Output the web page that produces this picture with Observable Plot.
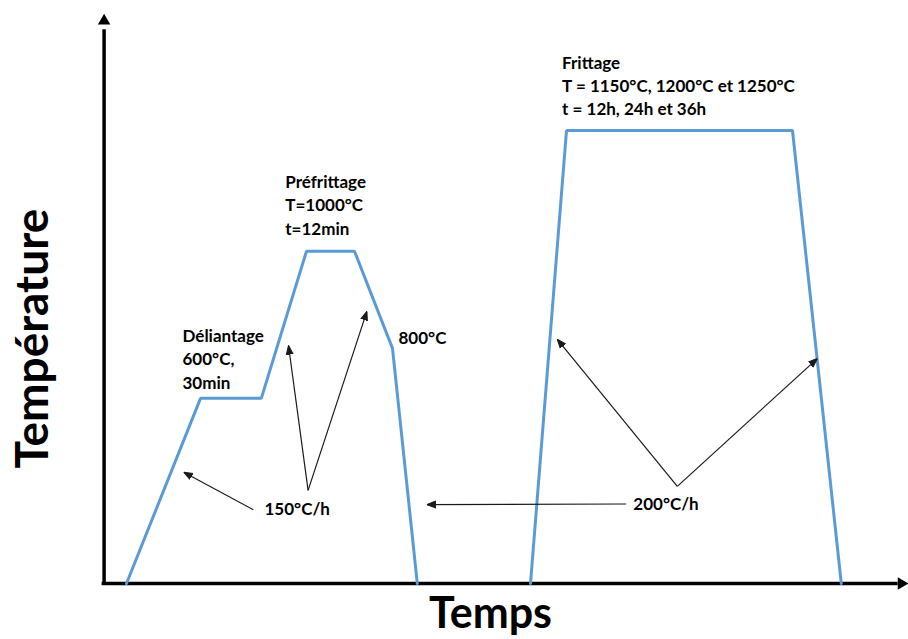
<!DOCTYPE html>
<html>
<head>
<meta charset="utf-8">
<script src="https://cdn.jsdelivr.net/npm/d3@7"></script>
<script src="https://cdn.jsdelivr.net/npm/@observablehq/plot@0.6"></script>
<style>
  html, body { margin: 0; padding: 0; background: #fff; }
  #chart svg { display: block; font-family: Lato, "Open Sans", sans-serif; }
</style>
</head>
<body>
<div id="chart"></div>
<script>
// Schematic thermal cycle: time (arbitrary units 0–100) vs temperature level (arbitrary units 0–100)
const cycle1Time = [2.75, 12, 19.6, 25.25, 31.25, 36, 39.1];
const cycle1Temp = [0, 32.6, 32.6, 58.5, 58.5, 41.4, 0];
const cycle2Time = [53.25, 57.75, 86, 92.1];
const cycle2Temp = [0, 79.75, 79.75, 0];

// Annotation labels
const labelTexts = [
  "Déliantage\n600°C,\n30min",
  "Préfrittage\nT=1000°C\nt=12min",
  "800°C",
  "Frittage\nT = 1150°C, 1200°C et 1250°C\nt = 12h, 24h et 36h",
  "150°C/h",
  "200°C/h"
];
const labelTime = [9.75, 22.6, 36.75, 57.2, 20.0, 66.1];
const labelTemp = [34.3, 61.4, 42.25, 82.4, 12.0, 13.0];

// Annotation arrows (from -> to)
const arrowFromTime = [18.6, 25.45, 25.45, 65.2, 71.6, 71.6];
const arrowFromTemp = [13.0, 16.4, 16.4, 14.0, 17.1, 17.1];
const arrowToTime   = [9.9, 23.0, 32.8, 40.3, 56.6, 89.1];
const arrowToTemp   = [19.6, 41.9, 47.9, 13.9, 43.0, 39.6];

// Axis titles and their anchor positions (in the same arbitrary units)
const xTitle = "Temps";
const yTitle = "Température";
const xTitlePos = {t: 48.25, T: -7.9};
const yTitlePos = {t: -7.1, T: 43.1};

const line1 = cycle1Time.map((t, i) => ({t, T: cycle1Temp[i]}));
const line2 = cycle2Time.map((t, i) => ({t, T: cycle2Temp[i]}));
const labels = labelTexts.map((text, i) => ({text, t: labelTime[i], T: labelTemp[i]}));
const arrows = arrowFromTime.map((t1, i) => ({t1, T1: arrowFromTemp[i], t2: arrowToTime[i], T2: arrowToTemp[i]}));

const filledArrow = (color, context) => {
  const doc = context && context.document ? context.document : document;
  const ns = "http://www.w3.org/2000/svg";
  const m = doc.createElementNS(ns, "marker");
  m.setAttribute("viewBox", "-10 -5 10 10");
  m.setAttribute("markerUnits", "userSpaceOnUse");
  m.setAttribute("markerWidth", 9);
  m.setAttribute("markerHeight", 9);
  m.setAttribute("refX", 0);
  m.setAttribute("refY", 0);
  m.setAttribute("orient", "auto");
  const p = doc.createElementNS(ns, "path");
  p.setAttribute("d", "M-10,-3.8L0,0L-10,3.8Z");
  p.setAttribute("fill", color);
  m.appendChild(p);
  return m;
};

const blue = "#5B9BD5";
const ink = "#1a1a1a";

const chart = Plot.plot({
  width: 908,
  height: 639,
  marginLeft: 104,
  marginRight: 4,
  marginTop: 15,
  marginBottom: 56,
  x: {domain: [0, 100], axis: null},
  y: {domain: [0, 100], axis: null},
  marks: [
    // axes lines
    Plot.ruleX([-0.05], {y1: -0.3, y2: 97.5, stroke: "#000", strokeWidth: 3.5}),
    Plot.ruleY([0], {x1: -0.3, x2: 99.2, stroke: "#000", strokeWidth: 3.5}),
    Plot.dot([{t: -0.05, T: 99.05}], {x: "t", y: "T", symbol: "triangle", r: 4.6, fill: "#000", stroke: null}),
    Plot.dot([{t: 99.6, T: 0}], {x: "t", y: "T", symbol: "triangle", r: 4.6, rotate: 90, fill: "#000", stroke: null}),
    // thermal cycle
    Plot.line(line1, {x: "t", y: "T", stroke: blue, strokeWidth: 3, strokeLinejoin: "miter"}),
    Plot.line(line2, {x: "t", y: "T", stroke: blue, strokeWidth: 3, strokeLinejoin: "miter"}),
    // annotation arrows
    Plot.link(arrows, {x1: "t1", y1: "T1", x2: "t2", y2: "T2", stroke: ink, strokeWidth: 1.2, markerEnd: filledArrow}),
    // labels
    Plot.text(labels, {x: "t", y: "T", text: "text", textAnchor: "start", lineAnchor: "bottom",
      lineHeight: 1.38, fontSize: 17, fontWeight: "bold", fill: "#000"}),
    // axis titles
    Plot.text([xTitlePos], {x: "t", y: "T", text: () => xTitle, lineAnchor: "bottom",
      fontSize: 43, fontWeight: "bold", fill: "#000"}),
    Plot.text([yTitlePos], {x: "t", y: "T", text: () => yTitle, rotate: -90, lineAnchor: "bottom",
      fontSize: 46, fontWeight: "bold", fill: "#000"})
  ]
});
document.getElementById("chart").appendChild(chart);
</script>
</body>
</html>
